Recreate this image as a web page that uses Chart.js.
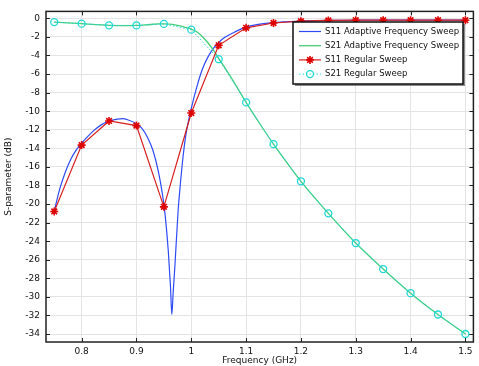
<!DOCTYPE html>
<html>
<head>
<meta charset="utf-8">
<script src="https://cdn.jsdelivr.net/npm/chart.js@4.4.1/dist/chart.umd.min.js"></script>
<style>
    body { margin: 0; background: #fff; }
    #wrap { width: 479px; height: 366px; }
</style>
</head>
<body>
<div id="wrap"><canvas id="chart-sparam" width="479" height="366"></canvas></div>
<script>
// regular sweep, 0.05 GHz steps
const sweepFreq = [0.75, 0.8, 0.85, 0.9, 0.95, 1.0, 1.05, 1.1, 1.15, 1.2, 1.25, 1.3, 1.35, 1.4, 1.45, 1.5];
const s11Regular = [-20.8, -13.65, -11.05, -11.55, -20.3, -10.2, -2.9, -1.02, -0.5, -0.3, -0.22, -0.2, -0.2, -0.2, -0.2, -0.2];
const s21Regular = [-0.4, -0.57, -0.75, -0.76, -0.6, -1.22, -4.4, -9.05, -13.55, -17.55, -21.0, -24.2, -27.0, -29.6, -31.9, -34.0];

// adaptive frequency sweep
const s11AdaptiveFreq = [0.75, 0.76, 0.77, 0.78, 0.79, 0.8, 0.81, 0.82, 0.835, 0.85, 0.865, 0.875, 0.885, 0.9, 0.91, 0.92,
    0.93, 0.94, 0.947, 0.952, 0.958, 0.962, 0.9645, 0.967, 0.97, 0.976, 0.98, 0.985, 0.99, 1.0, 1.01, 1.02, 1.03, 1.04,
    1.05, 1.06, 1.075, 1.1, 1.125, 1.15, 1.2, 1.25, 1.3, 1.4, 1.5];
const s11Adaptive = [-20.75, -18.4, -16.6, -15.2, -14.2, -13.45, -12.8, -12.2, -11.5, -11.05, -10.85, -10.8, -10.95, -11.35, -11.85, -12.8,
    -14.2, -16.5, -18.8, -21.0, -25.0, -28.8, -31.9, -29.5, -26.8, -20.7, -17.9, -14.9, -12.6, -9.7, -7.4, -5.5, -4.2, -3.25,
    -2.6, -2.1, -1.6, -0.95, -0.62, -0.45, -0.3, -0.22, -0.2, -0.18, -0.18];

const s21AdaptiveFreq = [0.75, 0.775, 0.8, 0.825, 0.85, 0.875, 0.9, 0.925, 0.94, 0.95, 0.96, 0.97, 0.98, 0.99, 1.0, 1.01, 1.02,
    1.03, 1.04, 1.05, 1.06, 1.075, 1.1, 1.125, 1.15, 1.175, 1.2, 1.25, 1.3, 1.35, 1.4, 1.45, 1.5];
const s21Adaptive = [-0.4, -0.48, -0.57, -0.68, -0.75, -0.78, -0.76, -0.66, -0.6, -0.6, -0.63, -0.7, -0.82, -0.98, -1.15, -1.45, -1.95,
    -2.6, -3.4, -4.3, -5.2, -6.6, -9.05, -11.35, -13.55, -15.6, -17.55, -21.0, -24.2, -27.0, -29.6, -31.9, -34.0];

const xTicks = [0.8, 0.9, 1.0, 1.1, 1.2, 1.3, 1.4, 1.5];
const yTicks = [0, -2, -4, -6, -8, -10, -12, -14, -16, -18, -20, -22, -24, -26, -28, -30, -32, -34];

const FONT = "'DejaVu Sans', sans-serif";

function pairs(xs, ys) {
    return xs.map((x, i) => ({x: x, y: ys[i]}));
}

// frame with inward ticks on all four sides, plus the boxed legend
const framePlugin = {
    id: "frame",
    afterDraw(chart) {
        const ctx = chart.ctx;
        const a = chart.chartArea;
        const sx = chart.scales.x, sy = chart.scales.y;
        ctx.save();
        ctx.strokeStyle = "#222";
        ctx.lineWidth = 1;
        ctx.beginPath();
        xTicks.forEach(v => {
            const px = Math.round(sx.getPixelForValue(v)) + 0.5;
            ctx.moveTo(px, a.bottom); ctx.lineTo(px, a.bottom - 4);
            ctx.moveTo(px, a.top); ctx.lineTo(px, a.top + 4);
        });
        yTicks.forEach(v => {
            const py = Math.round(sy.getPixelForValue(v)) + 0.5;
            ctx.moveTo(a.left, py); ctx.lineTo(a.left + 4, py);
            ctx.moveTo(a.right, py); ctx.lineTo(a.right - 4, py);
        });
        ctx.stroke();
        ctx.lineWidth = 1.5;
        ctx.strokeRect(a.left, a.top, a.right - a.left, a.bottom - a.top);

        // legend
        const lx = 293, ly = 22, lw = 170, lh = 62;
        ctx.fillStyle = "rgba(110,110,110,0.8)";
        ctx.fillRect(lx + 2, ly + 2, lw, lh);
        ctx.fillStyle = "#fff";
        ctx.fillRect(lx, ly, lw, lh);
        ctx.strokeStyle = "#111";
        ctx.lineWidth = 1.5;
        ctx.strokeRect(lx, ly, lw, lh);

        ctx.font = "8.5px " + FONT;
        ctx.textBaseline = "middle";
        ctx.textAlign = "left";
        chart.data.datasets.forEach((ds, i) => {
            const y = ly + 9.5 + i * 14.2;
            ctx.strokeStyle = ds.borderColor;
            ctx.lineWidth = ds.borderWidth;
            ctx.setLineDash(ds.borderDash || []);
            ctx.beginPath();
            ctx.moveTo(lx + 6, y); ctx.lineTo(lx + 28, y);
            ctx.stroke();
            ctx.setLineDash([]);
            if (ds.pointRadius > 0) {
                ctx.fillStyle = ds.pointBackgroundColor;
                ctx.strokeStyle = ds.pointBorderColor;
                ctx.lineWidth = ds.pointBorderWidth;
                Chart.helpers.drawPoint(ctx, {
                    pointStyle: ds.pointStyle, radius: ds.pointRadius,
                    borderWidth: ds.pointBorderWidth
                }, lx + 17, y);
            }
            ctx.fillStyle = "#111";
            ctx.fillText(ds.label, lx + 32, y);
        });
        ctx.restore();
    }
};

new Chart(document.getElementById("chart-sparam").getContext("2d"), {
    type: "line",
    data: {
        datasets: [
            {
                label: "S11 Adaptive Frequency Sweep",
                data: pairs(s11AdaptiveFreq, s11Adaptive),
                borderColor: "rgb(45,75,245)",
                borderWidth: 1.2,
                pointRadius: 0,
                cubicInterpolationMode: "monotone",
                order: 4
            },
            {
                label: "S21 Adaptive Frequency Sweep",
                data: pairs(s21AdaptiveFreq, s21Adaptive),
                borderColor: "rgb(70,205,120)",
                borderWidth: 1.3,
                pointRadius: 0,
                cubicInterpolationMode: "monotone",
                order: 3
            },
            {
                label: "S11 Regular Sweep",
                data: pairs(sweepFreq, s11Regular),
                borderColor: "rgb(215,30,30)",
                borderWidth: 1.2,
                pointStyle: "star",
                pointRadius: 4,
                pointBorderWidth: 1.6,
                pointBorderColor: "rgb(220,0,0)",
                pointBackgroundColor: "rgb(220,0,0)",
                order: 1
            },
            {
                label: "S21 Regular Sweep",
                data: pairs(sweepFreq, s21Regular),
                borderColor: "rgb(40,215,215)",
                borderWidth: 1,
                borderDash: [1.5, 2],
                pointStyle: "circle",
                pointRadius: 3.5,
                pointBorderWidth: 1.3,
                pointBorderColor: "rgb(30,215,215)",
                pointBackgroundColor: "rgba(0,0,0,0)",
                order: 2
            }
        ]
    },
    options: {
        responsive: false,
        animation: false,
        layout: {padding: {top: 11, right: 5, left: 0, bottom: 0}},
        plugins: {
            legend: {display: false},
            tooltip: {enabled: false}
        },
        scales: {
            x: {
                type: "linear",
                min: 0.735,
                max: 1.5146,
                afterBuildTicks: s => { s.ticks = xTicks.map(v => ({value: v})); },
                afterFit: s => { s.height = 24; },
                grid: {color: "#e4e4e4", drawTicks: false},
                border: {display: false},
                ticks: {
                    color: "#111",
                    font: {family: FONT, size: 9},
                    padding: 4,
                    maxRotation: 0,
                    callback: v => String(Math.round(v * 10) / 10)
                },
                title: {
                    display: true,
                    text: "Frequency (GHz)",
                    color: "#111",
                    font: {family: FONT, size: 9},
                    padding: {top: 1, bottom: 0}
                }
            },
            y: {
                min: -34.86,
                max: 0.75,
                afterBuildTicks: s => { s.ticks = yTicks.map(v => ({value: v})); },
                afterFit: s => { s.width = 46; },
                grid: {color: "#e4e4e4", drawTicks: false},
                border: {display: false},
                ticks: {
                    color: "#111",
                    font: {family: FONT, size: 9},
                    padding: 6,
                    callback: v => String(v)
                },
                title: {
                    display: true,
                    text: "S-parameter (dB)",
                    color: "#111",
                    font: {family: FONT, size: 9},
                    padding: {top: 3, bottom: 0}
                }
            }
        }
    },
    plugins: [framePlugin]
});
</script>
</body>
</html>
